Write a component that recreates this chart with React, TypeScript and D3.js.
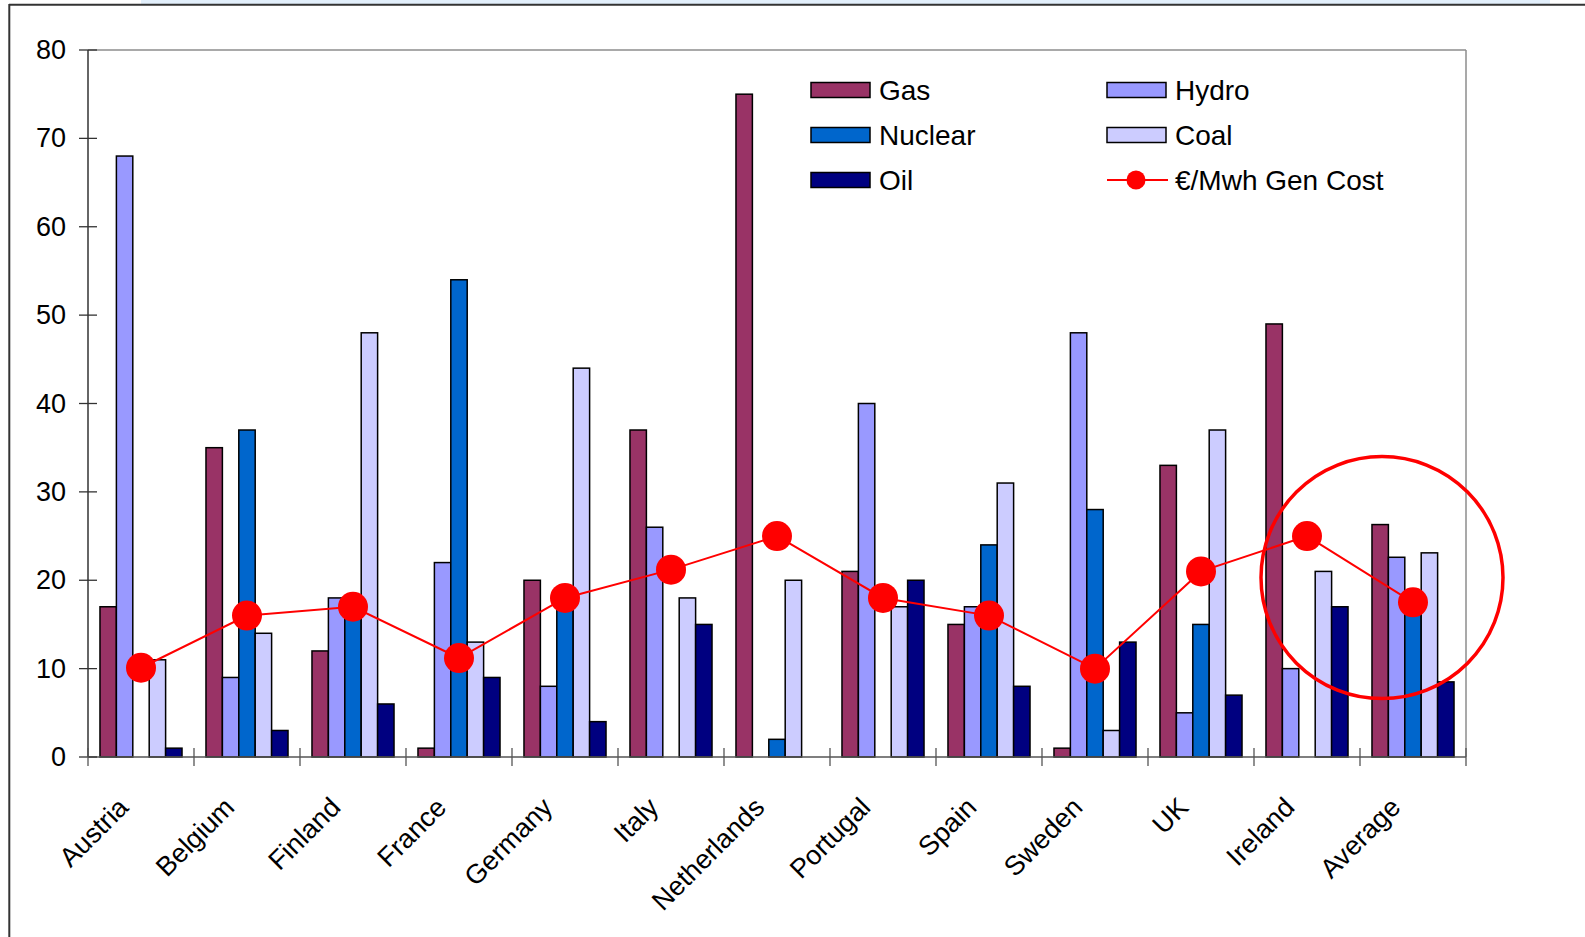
import React from 'react';
import * as d3 from 'd3';

const countries = ['Austria', 'Belgium', 'Finland', 'France', 'Germany', 'Italy', 'Netherlands', 'Portugal', 'Spain', 'Sweden', 'UK', 'Ireland', 'Average'];

const gas = [17, 35, 12, 1, 20, 37, 75, 21, 15, 1, 33, 49, 26.3];
const hydro = [68, 9, 18, 22, 8, 26, 0, 40, 17, 48, 5, 10, 22.6];
const nuclear = [0, 37, 17, 54, 18, 0, 2, 0, 24, 28, 15, 0, 16.5];
const coal = [11, 14, 48, 13, 44, 18, 20, 17, 31, 3, 37, 21, 23.1];
const oil = [1, 3, 6, 9, 4, 15, 0, 20, 8, 13, 7, 17, 8.5];
const genCost = [10.1, 16, 17, 11.2, 18, 21.2, 25, 18, 16, 10, 21, 25, 17.5];

const yTicks = [0, 10, 20, 30, 40, 50, 60, 70, 80];

const series = [
  { name: 'Gas', values: gas, color: '#993366' },
  { name: 'Hydro', values: hydro, color: '#9999FF' },
  { name: 'Nuclear', values: nuclear, color: '#0066CC' },
  { name: 'Coal', values: coal, color: '#CCCCFF' },
  { name: 'Oil', values: oil, color: '#000080' },
];

const W = 1585;
const H = 937;
const font = '"Liberation Sans", Arial, sans-serif';

export default function App() {
  const margin = { left: 88, right: W - 1466, top: 50, bottom: H - 757 };

  const x = d3.scaleBand<string>().domain(countries).range([margin.left, W - margin.right]);
  const xs = d3
    .scaleBand<string>()
    .domain(series.map((s) => s.name))
    .range([0, x.bandwidth()])
    .paddingOuter(0.73);
  const y = d3.scaleLinear().domain([0, 80]).range([H - margin.bottom, margin.top]);

  const lineX = (i: number) => x(countries[i])! + xs('Nuclear')! + xs.bandwidth() / 2;
  const line = d3
    .line<number>()
    .x((_, i) => lineX(i))
    .y((d) => y(d));

  const x0 = margin.left;
  const x1 = W - margin.right;
  const y0 = y(0);
  const y1 = y(80);

  // legend layout
  const legendCols = [811, 1107];
  const legendRows = [90, 135, 180];

  const avgX = x('Average')! + x.bandwidth() / 2;

  return (
    <svg
      width={W}
      height={H}
      style={{ position: 'absolute', left: 0, top: 0, background: '#fff' }}
      fontFamily={font}
    >
      {/* outer frame */}
      <rect x={141} y={0} width={1409} height={4} fill="#e2effb" />
      <line x1={9} y1={4.7} x2={W} y2={4.7} stroke="#333" strokeWidth={2} />
      <line x1={9.3} y1={4} x2={9.3} y2={H} stroke="#333" strokeWidth={2} />

      {/* plot border */}
      <line x1={x0} y1={y1} x2={x1} y2={y1} stroke="#8c8c8c" strokeWidth={1.5} />
      <line x1={x1} y1={y1} x2={x1} y2={y0} stroke="#8c8c8c" strokeWidth={1.5} />

      {/* bars */}
      {countries.map((c, i) => (
        <g key={c} transform={`translate(${x(c)},0)`}>
          {series.map((s) =>
            s.values[i] > 0 ? (
              <rect
                key={s.name}
                x={xs(s.name)}
                y={y(s.values[i])}
                width={xs.bandwidth()}
                height={y0 - y(s.values[i])}
                fill={s.color}
                stroke="#000"
                strokeWidth={1.5}
              />
            ) : null,
          )}
        </g>
      ))}

      {/* axes */}
      <line x1={x0} y1={y0} x2={x1} y2={y0} stroke="#555" strokeWidth={1.5} />
      <line x1={x0} y1={y1} x2={x0} y2={y0} stroke="#333" strokeWidth={1.5} />
      {yTicks.map((t) => (
        <g key={t}>
          <line x1={x0 - 9} x2={x0 + 9} y1={y(t)} y2={y(t)} stroke="#333" strokeWidth={1.3} />
          <text x={66} y={y(t)} textAnchor="end" dominantBaseline="central" fontSize={27} fill="#000">
            {t}
          </text>
        </g>
      ))}
      {[...countries.map((c) => x(c)!), x1].map((px, i) => (
        <line key={i} x1={px} x2={px} y1={y0 - 9} y2={y0 + 9} stroke="#555" strokeWidth={1.3} />
      ))}
      {countries.map((c) => {
        const px = x(c)! + x.bandwidth() / 2 - 11;
        const py = 809;
        return (
          <text
            key={c}
            x={px}
            y={py}
            textAnchor="end"
            fontSize={27}
            fill="#000"
            transform={`rotate(-45,${px},${py})`}
          >
            {c}
          </text>
        );
      })}

      {/* gen cost line */}
      <path d={line(genCost)!} fill="none" stroke="#ff0000" strokeWidth={2} />
      {genCost.map((v, i) => (
        <circle key={i} cx={lineX(i)} cy={y(v)} r={15} fill="#ff0000" />
      ))}

      {/* legend */}
      {[...series.map((s) => s.name), '€/Mwh Gen Cost'].map((name, k) => {
        const lx = legendCols[k % 2];
        const ly = legendRows[Math.floor(k / 2)];
        const s = series[k];
        return (
          <g key={name}>
            {s ? (
              <rect x={lx} y={ly - 7.5} width={59} height={15} fill={s.color} stroke="#000" strokeWidth={1.5} />
            ) : (
              <g>
                <line x1={lx} x2={lx + 61} y1={ly} y2={ly} stroke="#ff0000" strokeWidth={2} />
                <circle cx={lx + 29} cy={ly} r={9.5} fill="#ff0000" />
              </g>
            )}
            <text x={lx + 68} y={ly} dominantBaseline="central" fontSize={28} fill="#000">
              {name}
            </text>
          </g>
        );
      })}

      {/* highlight around average */}
      <circle cx={avgX - 31} cy={y(20.3)} r={121} fill="none" stroke="#ff0000" strokeWidth={3.5} />
    </svg>
  );
}
